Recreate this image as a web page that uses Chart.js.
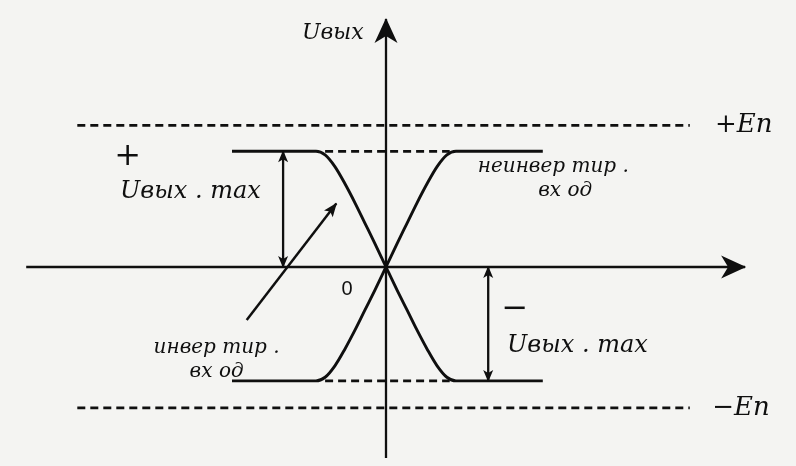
<!DOCTYPE html>
<html lang="ru">
<head>
<meta charset="UTF-8">
<title>Передаточная характеристика ОУ</title>
<script src="https://cdn.jsdelivr.net/npm/chart.js"></script>
<style>
  html, body { margin: 0; padding: 0; background: #f4f4f2; }
  .wrap { width: 796px; height: 466px; position: relative; }
</style>
</head>
<body>
<div class="wrap"><canvas id="chart"></canvas></div>
<script>
// точки передаточных характеристик (вход - условные единицы)
const inputX    = [-22, -10, -8.7, -7.3, -5.9, -4.4, -3.0, -1.6, 0, 1.6, 3.0, 4.4, 5.9, 7.3, 8.7, 10, 22.4];
const invOut    = [4.45, 4.45, 4.31, 3.86, 3.22, 2.45, 1.68, 0.91, 0, -0.90, -1.65, -2.41, -3.17, -3.80, -4.24, -4.38, -4.38];
const nonInvOut = [-4.38, -4.38, -4.24, -3.80, -3.17, -2.41, -1.65, -0.90, 0, 0.91, 1.68, 2.45, 3.22, 3.86, 4.31, 4.45, 4.45];

// уровни питания и насыщения
const supplyLevels = [5.45, -5.42];      // +En, -En
const supplyLineX  = [-44.1, 43.4];
const uMaxLevels   = [4.45, -4.38];
const uMaxDashX    = [-8.7, 9.1];

// оси
const axisXRange = [-51.4, 51.3];
const axisYRange = [-7.35, 9.54];

// стрелки-размеры и указатель
const dimLeftX  = -14.7,  dimLeftY  = [0, 4.45];
const dimRightX = 14.6,   dimRightY = [0, -4.38];
const pointerX  = [-19.9, -7.1];
const pointerY  = [-2.04, 2.44];

const ink = '#0f0f0f';
const pts = (xs, ys) => xs.map((x, i) => ({ x: x, y: ys[i] }));

const bigHead = { len: 24, width: 23, notch: 7 };
const smallHead = { len: 11, width: 10, notch: 3 };

function line(data, extra) {
    return Object.assign({
        data: data,
        showLine: true,
        borderColor: ink,
        borderWidth: 2,
        pointRadius: 0,
        fill: false
    }, extra || {});
}

const dash = { borderDash: [8, 5], borderWidth: 2.7 };

const datasets = [
    line([{ x: axisXRange[0], y: 0 }, { x: axisXRange[1], y: 0 }], { borderWidth: 2.6, arrowEnd: bigHead }),
    line([{ x: 0, y: axisYRange[0] }, { x: 0, y: axisYRange[1] }], { borderWidth: 2.3, arrowEnd: bigHead }),
    line(pts(supplyLineX, [supplyLevels[0], supplyLevels[0]]), dash),
    line(pts(supplyLineX, [supplyLevels[1], supplyLevels[1]]), dash),
    line(pts(uMaxDashX, [uMaxLevels[0], uMaxLevels[0]]), dash),
    line(pts(uMaxDashX, [uMaxLevels[1], uMaxLevels[1]]), dash),
    line(pts(inputX, nonInvOut), { borderWidth: 2.9, cubicInterpolationMode: 'monotone' }),
    line(pts(inputX, invOut), { borderWidth: 2.9, cubicInterpolationMode: 'monotone' }),
    line(pts([dimLeftX, dimLeftX], dimLeftY), { borderWidth: 2.3, arrowStart: smallHead, arrowEnd: smallHead }),
    line(pts([dimRightX, dimRightX], dimRightY), { borderWidth: 2.3, arrowStart: smallHead, arrowEnd: smallHead }),
    line(pts(pointerX, pointerY), { borderWidth: 2.5, arrowEnd: { len: 13, width: 11, notch: 3 } })
];

const serifFam = '"DejaVu Serif", "Liberation Serif", serif';
const labels = [
    { text: 'Uвых', x: -7.6, y: 9.0, font: 'italic 22px ' + serifFam, align: 'center' },
    { text: '+En', x: 47.0, y: 5.46, font: 'italic 26px ' + serifFam, align: 'left' },
    { text: '\u2212En', x: 46.6, y: -5.42, font: 'italic 26px ' + serifFam, align: 'left' },
    { text: '+', x: -36.9, y: 4.23, font: '32px ' + serifFam, align: 'center' },
    { text: 'Uвых . max', x: -38.0, y: 2.88, font: 'italic 24px ' + serifFam, align: 'left' },
    { text: 'неинвер тир .', x: 23.9, y: 3.85, font: 'italic 20px ' + serifFam, align: 'center' },
    { text: 'вх од', x: 25.6, y: 2.92, font: 'italic 20px ' + serifFam, align: 'center' },
    { text: '\u2212', x: 18.4, y: -1.66, font: '32px ' + serifFam, align: 'center' },
    { text: 'Uвых . max', x: 17.3, y: -3.04, font: 'italic 24px ' + serifFam, align: 'left' },
    { text: 'инвер тир .', x: -24.2, y: -3.12, font: 'italic 20px ' + serifFam, align: 'center' },
    { text: 'вх од', x: -24.2, y: -4.04, font: 'italic 20px ' + serifFam, align: 'center' },
    { text: '0', x: -5.57, y: -0.88, font: '20px "Liberation Sans", Arial, sans-serif', align: 'center' }
];

function drawHead(ctx, tip, from, h) {
    const dx = tip.x - from.x, dy = tip.y - from.y;
    const d = Math.hypot(dx, dy);
    const ux = dx / d, uy = dy / d;
    const nx = -uy, ny = ux;
    const bx = tip.x - ux * h.len, by = tip.y - uy * h.len;
    ctx.beginPath();
    ctx.moveTo(tip.x + ux, tip.y + uy);
    ctx.lineTo(bx + nx * h.width / 2, by + ny * h.width / 2);
    ctx.lineTo(tip.x - ux * (h.len - h.notch), tip.y - uy * (h.len - h.notch));
    ctx.lineTo(bx - nx * h.width / 2, by - ny * h.width / 2);
    ctx.closePath();
    ctx.fill();
}

const arrowPlugin = {
    id: 'arrows',
    afterDatasetsDraw(chart) {
        const ctx = chart.ctx;
        ctx.save();
        ctx.fillStyle = ink;
        chart.data.datasets.forEach((ds, i) => {
            const p = chart.getDatasetMeta(i).data;
            if (ds.arrowEnd) drawHead(ctx, p[p.length - 1], p[p.length - 2], ds.arrowEnd);
            if (ds.arrowStart) drawHead(ctx, p[0], p[1], ds.arrowStart);
        });
        ctx.restore();
    }
};

const labelPlugin = {
    id: 'labels',
    afterDraw(chart) {
        const ctx = chart.ctx;
        const sx = chart.scales.x, sy = chart.scales.y;
        ctx.save();
        ctx.fillStyle = ink;
        ctx.textBaseline = 'middle';
        labels.forEach(l => {
            ctx.font = l.font;
            ctx.textAlign = l.align;
            ctx.fillText(l.text, sx.getPixelForValue(l.x), sy.getPixelForValue(l.y));
        });
        ctx.restore();
    }
};

new Chart(document.getElementById('chart').getContext('2d'), {
    type: 'scatter',
    data: { datasets: datasets },
    options: {
        responsive: true,
        maintainAspectRatio: false,
        animation: false,
        layout: { padding: 0 },
        plugins: { legend: { display: false }, tooltip: { enabled: false } },
        scales: {
            x: { type: 'linear', display: false, min: -55.143, max: 58.571 },
            y: { type: 'linear', display: false, min: -7.654, max: 10.269 }
        }
    },
    plugins: [arrowPlugin, labelPlugin]
});
</script>
</body>
</html>
